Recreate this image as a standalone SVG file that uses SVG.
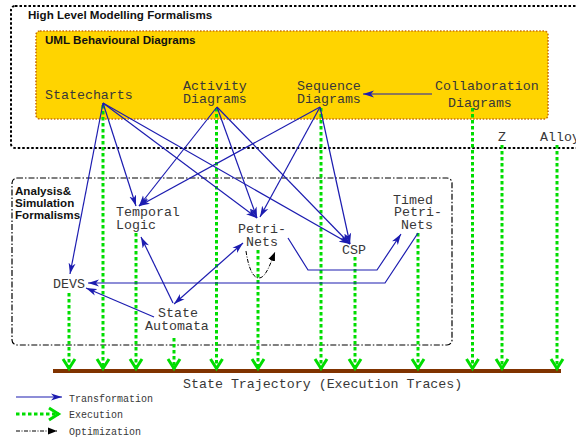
<svg xmlns="http://www.w3.org/2000/svg" width="576" height="439" viewBox="0 0 576 439">
<style>
.t{font-family:"Liberation Mono","DejaVu Sans Mono",monospace;font-size:13.3px;fill:#383838}
.s{font-family:"Liberation Mono","DejaVu Sans Mono",monospace;font-size:10px;fill:#383838}
.h{font-family:"Liberation Sans",Arial,sans-serif;font-size:11.6px;font-weight:bold;fill:#111}
.tr{fill:none;stroke:#1c1cb0;stroke-width:1.2;marker-end:url(#ab)}
.ex{fill:none;stroke:#00dd00;stroke-width:3;stroke-dasharray:3.5 2.5;marker-end:url(#av)}
.op{fill:none;stroke:#000;stroke-width:1;stroke-dasharray:4 1.5 1 1.5;marker-end:url(#ak)}
</style>
<defs>
<marker id="ab" markerUnits="userSpaceOnUse" markerWidth="12" markerHeight="8" viewBox="0 0 12 8" refX="11" refY="4" orient="auto-start-reverse"><path d="M0,0.5 L11,4 L0,7.5 L3,4 z" fill="#1c1cb0"/></marker>
<marker id="av" markerUnits="userSpaceOnUse" markerWidth="16" markerHeight="18" viewBox="-13 -9 16 18" refX="0" refY="0" orient="auto"><path d="M-10,-6 L-0.5,0 L-10,6" fill="none" stroke="#00dd00" stroke-width="3" stroke-dasharray="none"/></marker>
<marker id="ak" markerUnits="userSpaceOnUse" markerWidth="10" markerHeight="8" viewBox="0 0 10 8" refX="9" refY="4" orient="auto"><path d="M0,0.5 L9,4 L0,7.5 z" fill="#000"/></marker>
</defs>
<rect width="576" height="439" fill="#fff"/>
<g id="high-level">
<rect x="11" y="6" width="590" height="142" rx="4" fill="none" stroke="#000" stroke-width="2" stroke-dasharray="2.5 2"/>
<text class="h" x="28" y="19">High Level Modelling Formalisms</text>
</g>
<g id="uml">
<rect x="36" y="31" width="512" height="88" rx="4" fill="#ffd400" stroke="#c8700a" stroke-width="1.6" stroke-dasharray="1.6 1.6"/>
<text class="h" x="45" y="44">UML Behavioural Diagrams</text>
</g>
<g id="analysis">
<rect x="12" y="178" width="440" height="167" rx="5" fill="none" stroke="#000" stroke-width="1.2" stroke-dasharray="6 2 1.5 2"/>
<text class="h" x="15" y="195">Analysis&amp;</text>
<text class="h" x="15" y="207">Simulation</text>
<text class="h" x="15" y="219">Formalisms</text>
</g>
<g id="bar"><rect x="53" y="369" width="508" height="4" fill="#803300"/>
<text class="t" x="183" y="388">State Trajectory (Execution Traces)</text></g>
<g id="connectors">
<path class="ex" d="M69,293 V369"/>
<path class="ex" d="M103,105 V369"/>
<path class="ex" d="M136,233 V369"/>
<path class="ex" d="M174,338 V369"/>
<path class="ex" d="M216.5,108 V369"/>
<path class="ex" d="M258,250 V369"/>
<path class="ex" d="M321,108 V369"/>
<path class="ex" d="M355,257 V369"/>
<path class="ex" d="M418,233 V369"/>
<path class="ex" d="M472.5,108 V369"/>
<path class="ex" d="M502,145 V369"/>
<path class="ex" d="M557,145 V369"/>
<path class="tr" d="M103,103 L70,274"/>
<path class="tr" d="M103,103 L136,206"/>
<path class="tr" d="M103,103 L257,218"/>
<path class="tr" d="M103,103 L350,244"/>
<path class="tr" d="M217,107 L139,206"/>
<path class="tr" d="M217,107 L257,218"/>
<path class="tr" d="M217,107 L350,244"/>
<path class="tr" d="M320,107 L139,206"/>
<path class="tr" d="M320,107 L260,217"/>
<path class="tr" d="M320,107 L350,244"/>
<path class="tr" d="M432,94 L363,94"/>
<path class="tr" d="M174,304 L243,243" style="marker-start:url(#ab)"/>
<path class="tr" d="M173,303 L141,237"/>
<path class="tr" d="M154,317 L86,288"/>
<path class="tr" d="M418,233 L385,283 L88,283"/>
<path class="tr" d="M288,238 L308,270 L377,270 L401,234"/>
<path class="op" d="M246,251 C248,265 252,278 259,278 C266,278 271,262 275,252"/>
</g>
<g id="statecharts"><text class="t" x="45" y="99">Statecharts</text></g>
<g id="activity"><text class="t" x="183" y="90">Activity</text><text class="t" x="183" y="103">Diagrams</text></g>
<g id="sequence"><text class="t" x="297" y="90">Sequence</text><text class="t" x="297" y="103">Diagrams</text></g>
<g id="collaboration"><text class="t" x="435" y="90">Collaboration</text><text class="t" x="448" y="107">Diagrams</text></g>
<g id="z"><text class="t" x="498" y="141">Z</text></g>
<g id="alloy"><text class="t" x="540" y="141">Alloy</text></g>
<g id="temporal"><text class="t" x="116" y="216">Temporal</text><text class="t" x="116" y="229">Logic</text></g>
<g id="petri"><text class="t" x="238" y="233">Petri-</text><text class="t" x="246" y="246">Nets</text></g>
<g id="csp"><text class="t" x="342" y="254">CSP</text></g>
<g id="timed"><text class="t" x="393" y="204">Timed</text><text class="t" x="394" y="216">Petri-</text><text class="t" x="401" y="229">Nets</text></g>
<g id="devs"><text class="t" x="53" y="288">DEVS</text></g>
<g id="automata"><text class="t" x="158" y="317">State</text><text class="t" x="145" y="330">Automata</text></g>
<g id="legend">
<path class="tr" d="M16,397 L62,397"/>
<text class="s" x="69" y="402">Transformation</text>
<path class="ex" d="M16,414 L59,414"/>
<text class="s" x="69" y="418">Execution</text>
<path class="op" d="M16,431 L57,431"/>
<text class="s" x="69" y="435">Optimization</text>
</g>
</svg>
